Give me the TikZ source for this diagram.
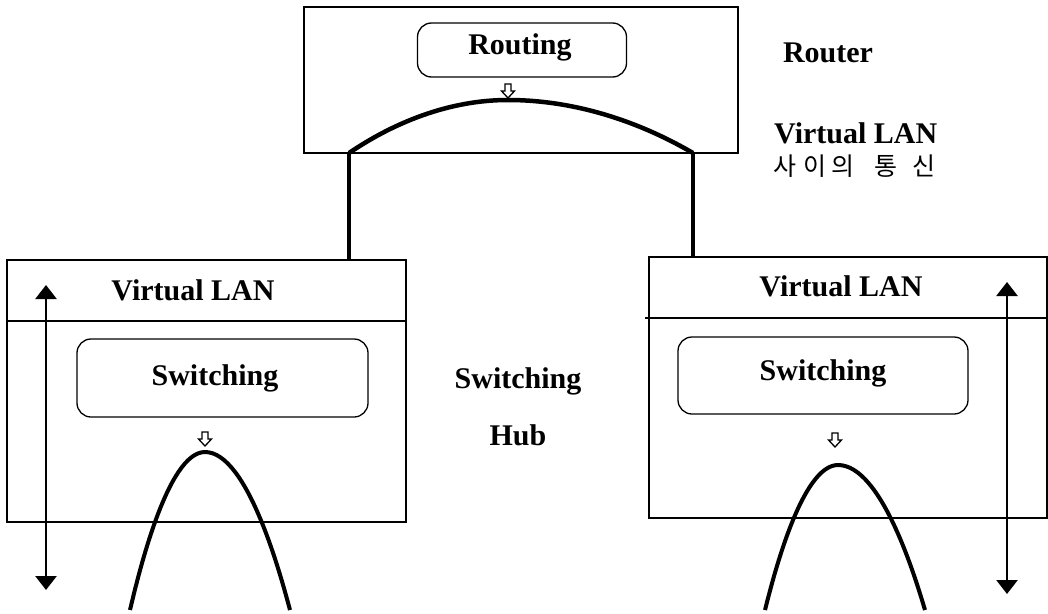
\documentclass[tikz,border=0pt]{standalone}
\usepackage{fontspec}
\setmainfont{Liberation Serif}
\newfontfamily\kr{Noto Sans CJK KR}
\usetikzlibrary{arrows.meta}
\tikzset{
  frame/.style={draw,line width=1.8pt,inner sep=0pt,minimum width=#1},
  rbox/.style={draw,line width=1.3pt,rounded corners=14pt,inner sep=0pt},
  lbl/.style={font=\bfseries\fontsize{30}{34}\selectfont,inner sep=0pt},
  wire/.style={line width=4.5pt},
  hump/.style={line width=4pt},
  flow/.style={line width=1.3pt,fill=white},
  span/.style={line width=2.6pt,{Triangle[width=21pt,length=14pt]}-{Triangle[width=21pt,length=14pt]}}
}
\newcommand{\hollowarrow}[2]{%
  \draw[flow] (#1-3,#2) -- (#1-3,#2+7) -- (#1-6.5,#2+7) -- (#1,#2+14) -- (#1+6.5,#2+7) -- (#1+3,#2+7) -- (#1+3,#2) -- cycle;}
\begin{document}
\begin{tikzpicture}[x=1pt,y=-1pt]
\useasboundingbox (0,0) rectangle (1048,613);
% Router
\node[frame=434pt,minimum height=146pt] (router) at (521,80) {};
\node[rbox,minimum width=209pt,minimum height=54pt] (routing) at (522,50) {};
\node[lbl] (routingtxt) at (520,47) {Routing};
\hollowarrow{508}{84}
\coordinate (arcL) at (349,153);
\coordinate (arcR) at (693,153);
\coordinate (arcTop) at (508,100);
\draw[wire] (arcL) parabola bend (arcTop) (arcR);
% Left VLAN
\node[frame=399pt,minimum height=262pt] (lvlan) at (206.5,391) {};
\draw[line width=1.3pt] (lvlan.west |- 0,321) coordinate (ldivL) -- (lvlan.east |- 0,321) coordinate (ldivR);
\node[lbl] (lvlantxt) at (193,290) {Virtual LAN};
\node[rbox,minimum width=291pt,minimum height=78pt] (lsw) at (222.5,378) {};
\node[lbl] (lswtxt) at (215,378) {Switching};
\hollowarrow{205}{432}
\coordinate (lpl) at (130,610);
\coordinate (lpt) at (205,452);
\coordinate (lpr) at (290,610);
\draw[hump] (lpl) parabola bend (lpt) (lpr);
\coordinate (lspanT) at (46,285);
\coordinate (lspanB) at (46,590);
\draw[span] (lspanT) -- (lspanB);
% Right VLAN
\node[frame=398pt,minimum height=261pt] (rvlan) at (848,387.5) {};
\draw[line width=1.3pt] (645,318) coordinate (rdivL) -- (rvlan.east |- 0,318) coordinate (rdivR);
\node[lbl] (rvlantxt) at (841,286) {Virtual LAN};
\node[rbox,minimum width=290pt,minimum height=77pt] (rsw) at (823,375.5) {};
\node[lbl] (rswtxt) at (823,373) {Switching};
\hollowarrow{835}{433}
\coordinate (rpl) at (765,610);
\coordinate (rpt) at (838,465);
\coordinate (rpr) at (925,610);
\draw[hump] (rpl) parabola bend (rpt) (rpr);
\coordinate (rspanT) at (1007,282);
\coordinate (rspanB) at (1007,594);
\draw[span] (rspanT) -- (rspanB);
% links router -> VLANs
\draw[wire] (arcL) -- (lvlan.north -| arcL);
\draw[wire] (arcR) -- (rvlan.north -| arcR);
% side labels
\node[lbl] (routerlbl) at (828,53) {Router};
\node[lbl,anchor=west] (vlanlbl) at (774,133) {Virtual LAN};
\node[inner sep=0pt,anchor=west,font=\kr\fontsize{25}{28}\selectfont] (krlbl) at (773,166) {사\hspace{7pt}이\hspace{5pt}의\hspace{20pt}통\hspace{15pt}신};
\node[lbl] (swlbl) at (518,381) {Switching};
\node[lbl] (hublbl) at (518,435) {Hub};
\end{tikzpicture}
\end{document}
